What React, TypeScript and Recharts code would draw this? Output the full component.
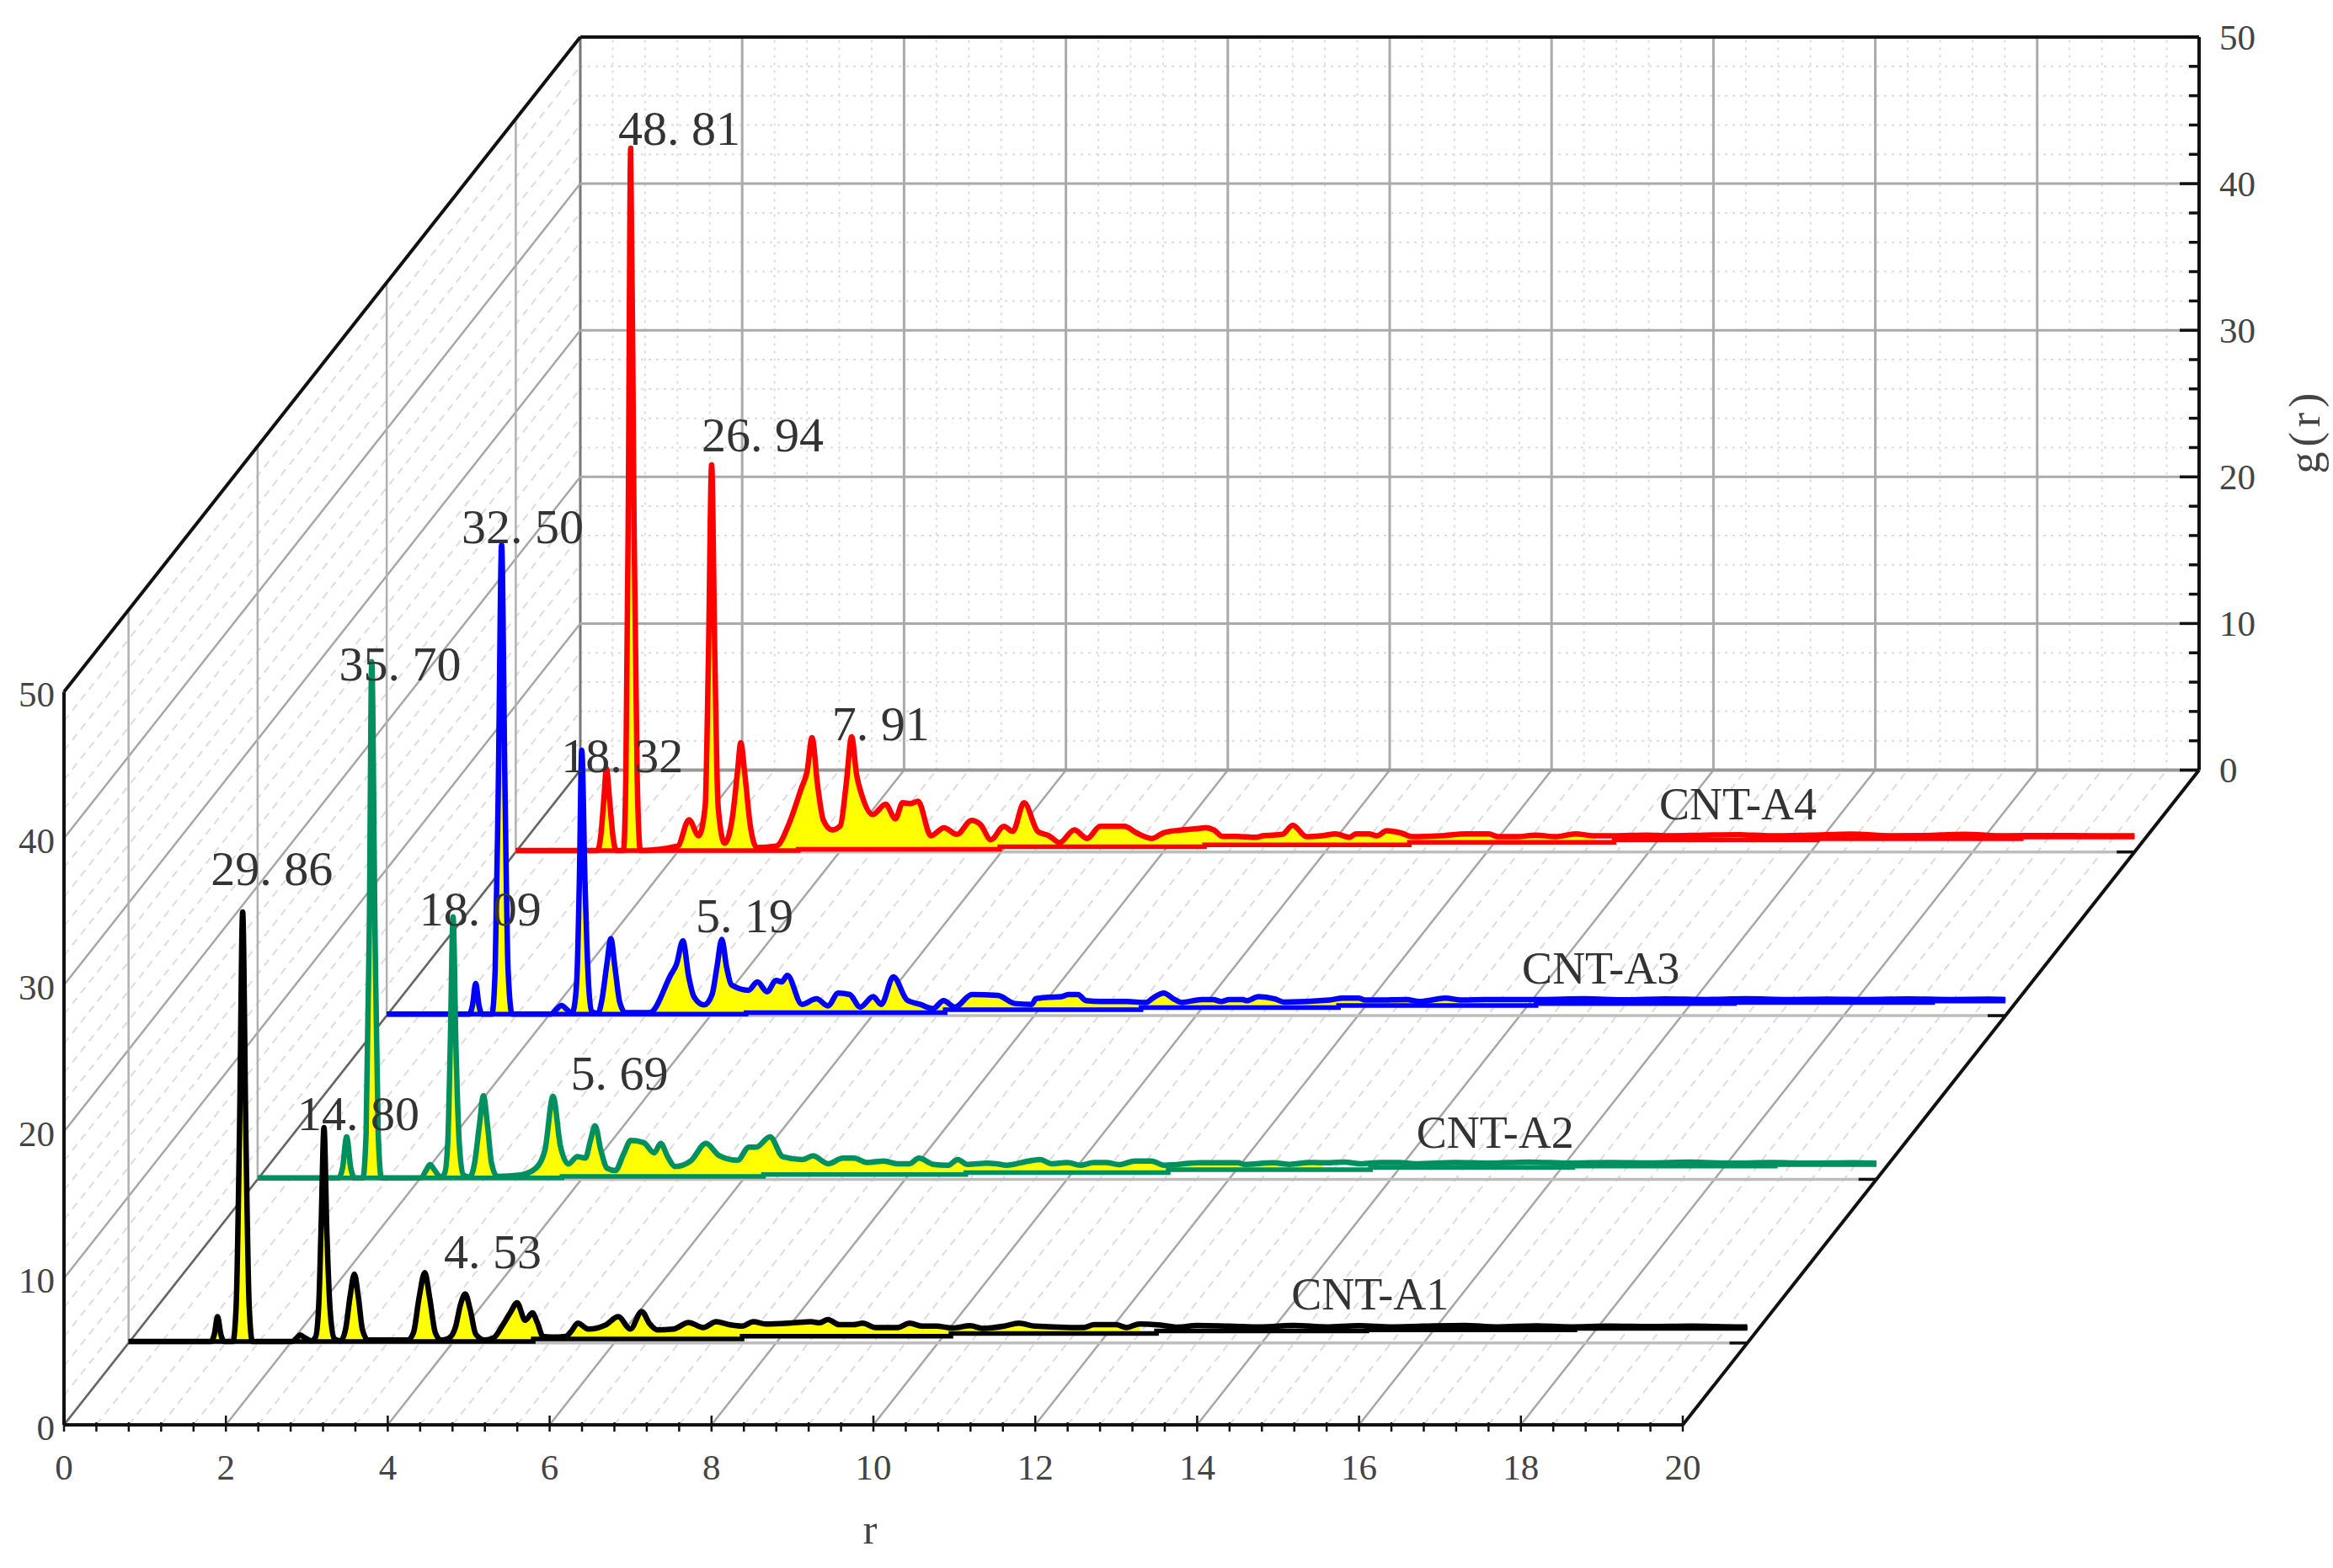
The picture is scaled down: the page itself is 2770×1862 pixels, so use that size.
import React from 'react';
import { ComposedChart, XAxis, YAxis, Line, Area, ReferenceLine, ReferenceDot, Label } from 'recharts';

// r, g(r) samples
const cntA1 = [[0,0],[1.02,0],[1.06,.5],[1.10,1.7],[1.14,.5],[1.18,0],[1.29,0],[1.33,2.5],[1.37,14],[1.41,29.3],[1.45,14],[1.49,2.5],[1.53,0],[2.02,0],[2.08,.25],[2.12,.45],[2.18,.25],[2.26,.05],[2.31,.3],[2.35,2.5],[2.38,8],[2.415,14.6],[2.45,7.5],[2.49,2.2],[2.54,.2],[2.62,.05],[2.68,.8],[2.74,3.2],[2.79,4.6],[2.84,3],[2.89,.8],[2.96,.1],[3.45,.1],[3.52,.6],[3.59,3.0],[3.66,4.7],[3.72,3],[3.79,.6],[3.86,.1],[3.95,.2],[4.04,1.0],[4.1,2.5],[4.16,3.25],[4.22,2.2],[4.29,.5],[4.4,.1],[4.51,.25],[4.62,1.1],[4.72,2.0],[4.8,2.65],[4.9,1.45],[4.99,1.95],[5.05,1.3],[5.12,.35],[5.22,.3],[5.4,.35],[5.47,.7],[5.55,1.25],[5.68,.85],[5.9,1.15],[6.05,1.7],[6.2,.85],[6.34,2.05],[6.44,1.2],[6.53,.8],[6.73,.85],[6.92,1.3],[7.1,.95],[7.26,1.35],[7.42,1.15],[7.58,1.05],[7.72,1.35],[7.87,1.2],[8.22,1.28],[8.43,1.35],[8.54,1.28],[8.64,1.5],[8.78,1.15],[8.96,1.15],[9.07,1.25],[9.23,.95],[9.5,.95],[9.65,1.25],[9.81,1.05],[9.98,1.05],[10.18,.92],[10.4,1.08],[10.55,.9],[10.82,1.05],[11.0,1.25],[11.2,1.05],[11.8,.95],[11.93,1.15],[12.2,1.15],[12.33,.95],[12.49,1.2],[12.75,1.12],[12.97,.98],[13.2,1.1],[13.6,1.05],[14,1.0],[14.4,1.1],[14.8,1.0],[15.2,1.08],[15.6,1.0],[16,1.05],[16.5,1.1],[16.9,1.0],[17.4,1.07],[17.8,1.0],[18.3,1.05],[18.8,1.02],[19.3,1.05],[19.9,1.0],[20,1.0]];
const cntA2 = [[0,0],[1.0,0],[1.05,.7],[1.10,2.8],[1.15,.7],[1.2,0],[1.3,0],[1.34,3],[1.38,17],[1.41,35.2],[1.45,17],[1.49,3],[1.53,0],[2.02,0],[2.08,.5],[2.13,.9],[2.19,.5],[2.26,.05],[2.31,.3],[2.35,2.5],[2.38,9],[2.415,17.8],[2.45,9],[2.49,2.5],[2.54,.2],[2.62,.05],[2.68,1.0],[2.74,3.6],[2.79,5.6],[2.84,3.6],[2.89,1.0],[2.96,.1],[3.25,.2],[3.44,.67],[3.55,1.9],[3.65,5.55],[3.74,2.2],[3.84,.95],[3.95,1.45],[4.05,1.35],[4.11,2.5],[4.17,3.55],[4.24,1.9],[4.32,.65],[4.42,.5],[4.52,1.6],[4.61,2.55],[4.77,2.4],[4.9,1.7],[4.98,2.35],[5.07,1.4],[5.16,.77],[5.35,1.15],[5.54,2.35],[5.7,1.53],[5.93,1.2],[6.07,2.1],[6.16,2.1],[6.33,2.8],[6.49,1.44],[6.73,1.25],[6.86,1.5],[7.05,.96],[7.23,1.34],[7.37,1.34],[7.53,1.05],[7.74,1.15],[7.9,.96],[8.05,.96],[8.17,1.34],[8.35,.92],[8.53,.86],[8.65,1.25],[8.77,.92],[9.01,1.0],[9.13,.96],[9.25,.86],[9.53,1.15],[9.67,1.25],[9.81,.96],[10.0,1.05],[10.17,.86],[10.33,1.05],[10.48,1.05],[10.64,.9],[10.84,1.15],[11.04,1.15],[11.2,.86],[11.64,1.03],[12.11,1.03],[12.19,.92],[12.55,1.03],[12.75,.92],[12.99,1.05],[13.15,1.03],[13.43,1.07],[13.63,.96],[13.87,1.05],[14.11,1.05],[14.3,.96],[14.8,1.05],[15.2,1.0],[15.7,1.08],[16.2,1.0],[16.7,1.05],[17.2,1.02],[17.7,1.07],[18.2,1.0],[18.7,1.04],[19.2,1.0],[19.7,1.03],[20,1.0]];
const cntA3 = [[0,0],[1.02,0],[1.06,.6],[1.10,2.1],[1.14,.6],[1.18,0],[1.3,0],[1.34,3],[1.38,16],[1.42,32.0],[1.46,16],[1.5,3],[1.55,0],[2.03,0],[2.1,.35],[2.16,.6],[2.22,.35],[2.29,.05],[2.31,.3],[2.35,2.5],[2.38,9],[2.41,18.0],[2.45,9],[2.49,2.5],[2.53,.2],[2.61,.05],[2.66,1.0],[2.72,3.4],[2.77,5.15],[2.82,3.2],[2.88,.8],[2.95,.1],[3.25,.1],[3.51,2.68],[3.58,3.4],[3.66,5.0],[3.73,2.6],[3.8,1.15],[3.92,.63],[4.02,1.34],[4.08,3.2],[4.14,5.1],[4.2,3.2],[4.26,2],[4.47,1.63],[4.58,2.2],[4.7,1.53],[4.81,2.3],[4.88,2.2],[4.95,2.65],[5.13,.67],[5.31,1.05],[5.45,.57],[5.58,1.44],[5.72,1.34],[5.85,.48],[6.01,1.19],[6.11,.67],[6.26,2.55],[6.43,.96],[6.59,.67],[6.75,.38],[6.88,.92],[7.02,.48],[7.23,1.34],[7.55,1.28],[7.76,.73],[7.97,.67],[8.02,1.05],[8.18,1.15],[8.34,1.2],[8.42,1.34],[8.54,1.34],[8.64,.92],[8.82,.86],[9.14,.86],[9.38,.8],[9.48,1.15],[9.6,1.44],[9.72,1.05],[9.82,.8],[10.07,1.0],[10.21,1.0],[10.31,.86],[10.41,1.0],[10.57,1.0],[10.63,.92],[10.77,1.2],[10.97,1.05],[11.09,.82],[11.65,.96],[11.81,1.1],[12.01,1.1],[12.09,.96],[12.24,.96],[12.6,1.0],[12.76,.86],[12.94,1.0],[13.08,1.1],[13.28,.96],[13.56,1.0],[13.88,1.0],[14.27,1.0],[14.8,1.05],[15.3,.98],[15.8,1.04],[16.3,1.0],[16.8,1.05],[17.3,1.0],[17.8,1.03],[18.3,1.0],[18.8,1.04],[19.3,1.0],[19.8,1.02],[20,1.0]];
const cntA4 = [[0,0],[1.01,0],[1.05,1],[1.09,3.6],[1.12,5.6],[1.16,3.4],[1.2,1],[1.24,0],[1.33,0],[1.36,5],[1.39,23],[1.42,47.9],[1.46,23],[1.5,5],[1.54,0],[2.0,.3],[2.14,2.1],[2.26,1.0],[2.34,3],[2.38,13],[2.42,26.3],[2.46,13],[2.5,3],[2.58,.5],[2.68,2.4],[2.74,5.4],[2.78,7.35],[2.83,5.2],[2.9,1.6],[2.98,.2],[3.22,.3],[3.38,1.88],[3.53,4.27],[3.6,5.4],[3.66,7.7],[3.73,4.4],[3.8,2.07],[3.91,1.4],[4.01,1.69],[4.08,4.4],[4.15,7.75],[4.21,5.2],[4.28,3.7],[4.41,2.45],[4.57,3.15],[4.69,2.16],[4.78,3.25],[4.87,3.2],[4.97,3.35],[5.13,1.0],[5.29,1.55],[5.45,1.1],[5.63,2.05],[5.74,1.78],[5.87,.73],[6.03,1.65],[6.14,1.3],[6.28,3.25],[6.45,1.3],[6.59,1.0],[6.72,.54],[6.9,1.4],[7.06,.82],[7.22,1.65],[7.52,1.65],[7.67,1.2],[7.86,.82],[8.0,1.2],[8.19,1.38],[8.39,1.47],[8.53,1.55],[8.63,1.38],[8.73,.96],[8.91,.96],[9.15,.9],[9.23,1.0],[9.47,1.1],[9.6,1.72],[9.77,.94],[9.95,1.0],[10.13,1.13],[10.3,.9],[10.38,1.13],[10.54,1.13],[10.64,1.0],[10.76,1.35],[10.94,1.19],[11.08,.94],[11.42,1.0],[11.74,1.13],[12.02,1.13],[12.14,.94],[12.37,.94],[12.6,1.05],[12.85,.94],[13.09,1.13],[13.33,1.0],[13.57,1.0],[13.97,1.05],[14.24,1.0],[14.7,1.05],[15.1,1.08],[15.5,1.0],[16,1.05],[16.5,1.12],[17,1.0],[17.4,1.02],[17.9,1.1],[18.4,1.0],[18.9,1.02],[19.5,1.0],[20,1.0]];

// stepped lower edge of the yellow fill: [r from which it holds, level]
const baseA1 = [[0,0],[5.0,.18],[7.58,.36],[10.16,.55],[12.7,.72],[15.3,.8],[17.87,.9],[20,.9]];
const baseA2 = [[0,0],[3.76,.1],[6.25,.23],[8.75,.35],[11.25,.55],[13.75,.72],[16.25,.8],[18.75,.9],[20,.9]];
const baseA3 = [[0,0],[4.44,.1],[6.9,.3],[9.32,.45],[11.76,.6],[14.2,.72],[16.65,.8],[19.1,.9],[20,.9]];
const baseA4 = [[0,0],[3.49,.08],[5.98,.26],[8.51,.38],[11.04,.55],[13.57,.72],[16.08,.8],[18.6,.92],[20,.92]];

const seriesNames = ['CNT-A4', 'CNT-A3', 'CNT-A2', 'CNT-A1'];
const seriesColors = ['#ff0000', '#0000ff', '#008f5f', '#000000'];
const seriesDepths = [7 / 8, 5 / 8, 3 / 8, 1 / 8];
const seriesPoints = [cntA4, cntA3, cntA2, cntA1];
const seriesBases = [baseA4, baseA3, baseA2, baseA1];
const fillEnds = [13.4, 13.4, 13.4, 12.7];

// [r, g, text] where each annotation sits, in its own series' coordinates
const notesA1 = [[1.77, 32.3, '29. 86'], [2.84, 15.6, '14. 80'], [4.5, 6.2, '4. 53'], [15.34, 3.3, 'CNT-A1']];
const notesA2 = [[1.76, 35.1, '35. 70'], [2.75, 18.4, '18. 09'], [4.47, 7.2, '5. 69'], [15.29, 3.16, 'CNT-A2']];
const notesA3 = [[1.68, 33.3, '32. 50'], [2.91, 17.7, '18. 32'], [4.42, 6.8, '5. 19'], [15.0, 3.2, 'CNT-A3']];
const notesA4 = [[2.02, 49.3, '48. 81'], [3.05, 28.4, '26. 94'], [4.51, 8.7, '7. 91'], [15.1, 3.2, 'CNT-A4']];
const seriesNotes = [notesA4, notesA3, notesA2, notesA1];

const rMajor = [0, 2, 4, 6, 8, 10, 12, 14, 16, 18, 20];
const gMajor = [0, 10, 20, 30, 40, 50];
const rMinor = Array.from({ length: 51 }, (_, i) => +(i * 0.4).toFixed(1));
const gMinor = Array.from({ length: 26 }, (_, i) => i * 2);

const W = 2770, H = 1862;
const PX_R = 96.1, PX_G = 17.41;
const PLOT_W = 2535, PLOT_H = 1648;
const X_SPAN = PLOT_W / PX_R, Y_SPAN = PLOT_H / PX_G;
const DX = 613 / PX_R, DY = 777.5 / PX_G;
const LIFT = 0.1;
const SERIF = '"Liberation Serif", serif';
const TICK_COLOR = '#444';

const isMajor = (v: number, step: number) => Math.abs(v / step - Math.round(v / step)) < 1e-6;
const px = (r: number, d: number) => r + DX * d;
const py = (g: number, d: number) => g + DY * d;

function seg(key: string, a: number[], b: number[], stroke: string, width: number, dash?: string) {
  return (
    <ReferenceLine
      key={key}
      xAxisId="f"
      yAxisId="f"
      ifOverflow="visible"
      segment={[{ x: px(a[0], a[2]), y: py(a[1], a[2]) }, { x: px(b[0], b[2]), y: py(b[1], b[2]) }]}
      stroke={stroke}
      strokeWidth={width}
      strokeDasharray={dash}
      zIndex={0}
    />
  );
}

const gridLines: React.ReactNode[] = [];
// minor lines first
rMinor.filter((r) => !isMajor(r, 2)).forEach((r) => {
  gridLines.push(seg(`fm${r}`, [r, 0, 0], [r, 0, 1], '#dcdcdc', 2, '9 7'));
  gridLines.push(seg(`bm${r}`, [r, 0, 1], [r, 50, 1], '#dcdcdc', 2, '3 6'));
});
gMinor.filter((g) => !isMajor(g, 10)).forEach((g) => {
  gridLines.push(seg(`wm${g}`, [0, g, 0], [0, g, 1], '#dcdcdc', 2, '9 7'));
  gridLines.push(seg(`hm${g}`, [0, g, 1], [20, g, 1], '#dcdcdc', 2, '3 6'));
});
rMajor.forEach((r) => {
  gridLines.push(seg(`fM${r}`, [r, 0, 0], [r, 0, 1], '#a6a6a6', 2.5));
  gridLines.push(seg(`bM${r}`, [r, 0, 1], [r, 50, 1], r === 0 ? '#777' : '#aaa', 3));
});
gMajor.forEach((g) => {
  gridLines.push(seg(`wM${g}`, [0, g, 0], [0, g, 1], g === 0 ? '#666' : '#a6a6a6', 2.5));
  gridLines.push(seg(`hM${g}`, [0, g, 1], [20, g, 1], g === 0 ? '#999' : '#aaa', g === 0 ? 4 : 3));
});
seriesDepths.forEach((d) => {
  gridLines.push(seg(`dv${d}`, [0, 0, d], [0, 50, d], '#b0b0b0', 2.5));
  gridLines.push(seg(`dh${d}`, [0, 0, d], [20, 0, d], '#bdbdbd', 3.5));
  gridLines.push(seg(`dt${d}`, [19.78, 0, d], [20, 0, d], '#111', 3.5));
});
// outer frame
gridLines.push(seg('f1', [0, 0, 0], [20, 0, 0], '#111', 4));
gridLines.push(seg('f2', [0, 0, 0], [0, 50, 0], '#111', 4));
gridLines.push(seg('f3', [0, 50, 0], [0, 50, 1], '#111', 4));
gridLines.push(seg('f4', [0, 50, 1], [20, 50, 1], '#111', 4));
gridLines.push(seg('f5', [20, 0, 1], [20, 50, 1], '#111', 4));
gridLines.push(seg('f6', [20, 0, 0], [20, 0, 1], '#111', 4));

const baseAt = (steps: number[][], r: number) => {
  let v = 0;
  for (const s of steps) if (s[0] <= r) v = s[1];
  return v;
};

const toRows = (pts: number[][], steps: number[][]) =>
  pts.map((p) => ({ r: p[0], g: p[1], base: baseAt(steps, p[0]) }));

function BottomTick(props: any) {
  const { x, y, payload } = props;
  const major = isMajor(payload.value, 2);
  return (
    <g>
      <line x1={x} x2={x} y1={y} y2={y - (major ? 19 : 11)} stroke="#111" strokeWidth={2.5} />
      {major && (
        <text x={x} y={y + 42} textAnchor="middle" dominantBaseline="central" fontSize={43} fontFamily={SERIF} fill={TICK_COLOR}>
          {payload.value}
        </text>
      )}
    </g>
  );
}

function LeftTick(props: any) {
  const { y, payload } = props;
  return (
    <text x={65} y={y + 3} textAnchor="end" dominantBaseline="central" fontSize={43} fontFamily={SERIF} fill={TICK_COLOR}>
      {payload.value}
    </text>
  );
}

function RightTick(props: any) {
  const { y, payload } = props;
  const major = isMajor(payload.value, 10);
  const X = 76 + PLOT_W;
  return (
    <g>
      <line x1={X} x2={X - (major ? 23 : 12)} y1={y} y2={y} stroke="#111" strokeWidth={3.5} />
      {major && (
        <text x={X + 24} y={y} textAnchor="start" dominantBaseline="central" fontSize={43} fontFamily={SERIF} fill={TICK_COLOR}>
          {payload.value}
        </text>
      )}
    </g>
  );
}

export default function App() {
  return (
    <div style={{ position: 'absolute', left: 0, top: 0, width: W, height: H, background: '#fff' }}>
      <ComposedChart width={W} height={H} margin={{ top: 44, right: 0, bottom: 0, left: 0 }}>
        <XAxis
          xAxisId="f"
          type="number"
          dataKey="r"
          domain={[0, X_SPAN]}
          allowDataOverflow
          ticks={rMinor}
          interval={0}
          height={170}
          axisLine={false}
          tickLine={false}
          tick={(p: any) => <BottomTick {...p} />}
        />
        <YAxis
          yAxisId="f"
          type="number"
          orientation="left"
          domain={[0, Y_SPAN]}
          allowDataOverflow
          ticks={gMajor}
          interval={0}
          width={76}
          axisLine={false}
          tickLine={false}
          tick={(p: any) => <LeftTick {...p} />}
        />
        <YAxis
          yAxisId="b"
          type="number"
          orientation="right"
          domain={[-DY, Y_SPAN - DY]}
          allowDataOverflow
          ticks={gMinor}
          interval={0}
          width={159}
          axisLine={false}
          tickLine={false}
          tick={(p: any) => <RightTick {...p} />}
        />
        {seriesDepths.map((d, i) => (
          <XAxis key={`x${i}`} xAxisId={`x${i}`} type="number" dataKey="r" hide allowDataOverflow domain={[-DX * d, X_SPAN - DX * d]} />
        ))}
        {seriesDepths.map((d, i) => (
          <YAxis key={`y${i}`} yAxisId={`y${i}`} type="number" hide allowDataOverflow domain={[-DY * d - LIFT, Y_SPAN - DY * d - LIFT]} />
        ))}
        {gridLines}
        {seriesNames.flatMap((name, i) => {
          const rows = toRows(seriesPoints[i], seriesBases[i]);
          const filled = rows.filter((row) => row.r <= fillEnds[i]);
          const baseRows = seriesBases[i].map((b) => ({ r: b[0], base: b[1] }));
          return [
            <Area
              key={`${name}-fill`}
              data={filled}
              xAxisId={`x${i}`}
              yAxisId={`y${i}`}
              type="monotoneX"
              dataKey={(row: any) => [row.base, row.g]}
              fill="#ffff00"
              fillOpacity={1}
              stroke="none"
              isAnimationActive={false}
              dot={false}
              activeDot={false}
              legendType="none"
            />,
            <Line
              key={`${name}-base`}
              data={baseRows}
              xAxisId={`x${i}`}
              yAxisId={`y${i}`}
              type="stepAfter"
              dataKey="base"
              stroke={seriesColors[i]}
              strokeWidth={5.5}
              dot={false}
              activeDot={false}
              isAnimationActive={false}
              legendType="none"
            />,
            <Line
              key={name}
              name={name}
              data={rows}
              xAxisId={`x${i}`}
              yAxisId={`y${i}`}
              type="monotoneX"
              dataKey="g"
              stroke={seriesColors[i]}
              strokeWidth={6.5}
              strokeLinejoin="round"
              dot={false}
              activeDot={false}
              isAnimationActive={false}
            />,
          ];
        })}
        {seriesNotes.flatMap((notes, i) =>
          notes.map((n) => (
            <ReferenceDot
              key={`${i}-${n[2]}`}
              xAxisId={`x${i}`}
              yAxisId={`y${i}`}
              x={n[0] as number}
              y={n[1] as number}
              r={0}
              stroke="none"
              fill="none"
              ifOverflow="visible"
            >
              <Label
                value={n[2] as string}
                position="center"
                fontSize={String(n[2]).startsWith('CNT') ? 54 : 58}
                fontFamily={SERIF}
                fill="#333"
              />
            </ReferenceDot>
          )),
        )}
        <ReferenceDot xAxisId="f" yAxisId="f" x={9.96} y={-7.1} r={0} stroke="none" fill="none" ifOverflow="visible">
          <Label value="r" position="center" fontSize={50} fontFamily={SERIF} fill={TICK_COLOR} />
        </ReferenceDot>
        <ReferenceDot xAxisId="f" yAxisId="f" x={27.67} y={67.8} r={0} stroke="none" fill="none" ifOverflow="visible">
          <Label value="g(r)" position="center" angle={-90} fontSize={52} letterSpacing={6} fontFamily={SERIF} fill={TICK_COLOR} />
        </ReferenceDot>
      </ComposedChart>
    </div>
  );
}
